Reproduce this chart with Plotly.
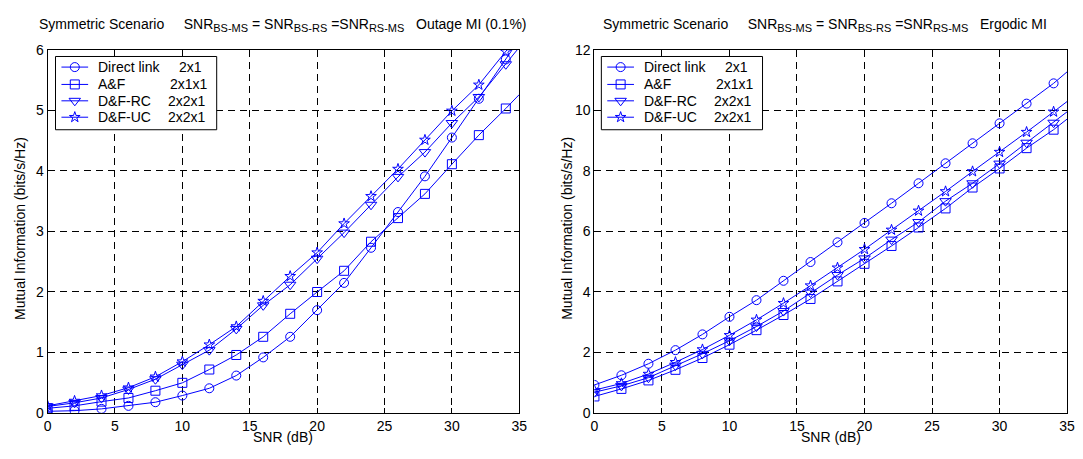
import plotly.graph_objects as go

# The page body keeps its default 8px margin: draw in a figure offset by it,
# small enough that the page never overflows the 1083x459 window.
OFF = 8
W, H = 1083 - OFF, 459 - 2 * OFF

snr = list(range(0, 35, 2))
snr_end = 35

# Outage MI (0.1%)
out_direct = [0.03, 0.04, 0.07, 0.12, 0.18, 0.29, 0.41, 0.62, 0.92, 1.26, 1.70, 2.15, 2.73, 3.32, 3.91, 4.55, 5.19, 5.84]
out_af     = [0.08, 0.12, 0.19, 0.25, 0.37, 0.50, 0.72, 0.96, 1.26, 1.64, 2.00, 2.35, 2.83, 3.22, 3.62, 4.11, 4.59, 5.03]
out_dfrc   = [0.11, 0.17, 0.25, 0.39, 0.56, 0.80, 1.04, 1.39, 1.78, 2.12, 2.55, 2.98, 3.44, 3.90, 4.31, 4.79, 5.22, 5.76]
out_dfuc   = [0.12, 0.20, 0.29, 0.42, 0.60, 0.85, 1.13, 1.43, 1.85, 2.26, 2.65, 3.13, 3.58, 4.03, 4.51, 4.99, 5.42, 5.97]
out_end    = [6.17, 5.26, 6.04, 6.25]

# Ergodic MI
erg_direct = [0.93, 1.25, 1.63, 2.08, 2.60, 3.18, 3.73, 4.37, 4.99, 5.64, 6.28, 6.93, 7.59, 8.25, 8.91, 9.57, 10.22, 10.89]
erg_af     = [0.55, 0.80, 1.08, 1.43, 1.82, 2.26, 2.74, 3.24, 3.77, 4.35, 4.93, 5.52, 6.13, 6.76, 7.45, 8.08, 8.75, 9.36]
erg_dfrc   = [0.69, 0.90, 1.17, 1.57, 1.96, 2.39, 2.86, 3.37, 3.98, 4.56, 5.11, 5.73, 6.31, 7.00, 7.59, 8.24, 8.93, 9.59]
erg_dfuc   = [0.76, 0.98, 1.29, 1.68, 2.10, 2.57, 3.08, 3.63, 4.21, 4.80, 5.41, 6.05, 6.68, 7.32, 7.98, 8.62, 9.28, 9.95]
erg_end    = [11.27, 9.71, 9.95, 10.29]

names = ["Direct link", "A&F", "D&F-RC", "D&F-UC"]
configs = ["2x1", "2x1x1", "2x2x1", "2x2x1"]
symbols = ["circle-open", "square-open", "triangle-down-open", "star-open"]
sizes = [9, 9, 10, 8]
blue = "rgb(0,0,255)"
FONT = "Liberation Sans, Arial, sans-serif"
FS = 14

# ---- layout geometry (window pixels) ----
PLOT_TOP, PLOT_BOT = 43, 420
PANELS = [
    dict(x0=44, x1=521, ymax=6, dtick=1, xa="x", ya="y", title="Outage MI (0.1%)", tcx=282, ylab=16),
    dict(x0=597, x1=1075, ymax=12, dtick=2, xa="x2", ya="y2", title="Ergodic MI", tcx=830, ylab=569),
]
LEG_ROWS = [61, 79, 96, 113]
LEG_BOX = (52, 50, 215, 126)
LEG_LINE = (58, 85)
LEG_MARK = 71.5
LEG_TXT = 93
LEG_CFG = [175, 166, 164, 164]
LEG_SHIFT = 552


def pxp(x):
    return (x - OFF) / W


def pyp(y):
    return 1 - (y - OFF) / H


fig = go.Figure()


def to_data(panel, x, y):
    xd = (x - panel["x0"]) / (panel["x1"] - panel["x0"]) * 35
    yd = (PLOT_BOT - y) / (PLOT_BOT - PLOT_TOP) * panel["ymax"]
    return xd, yd


def add_panel(panel, series, ends, shift):
    xa, ya = panel["xa"], panel["ya"]
    for i, vals in enumerate(series):
        fig.add_trace(go.Scatter(
            x=snr + [snr_end], y=vals + [ends[i]], mode="lines",
            line=dict(color=blue, width=1), showlegend=False, hoverinfo="skip",
            xaxis=xa, yaxis=ya))
        fig.add_trace(go.Scatter(
            x=snr, y=vals, mode="markers", name=names[i], showlegend=False,
            marker=dict(symbol=symbols[i], size=sizes[i], color=blue,
                        line=dict(color=blue, width=1)),
            xaxis=xa, yaxis=ya))
    # legend box (opaque, above the grid)
    l, t, r, b = LEG_BOX
    bx0, by0 = to_data(panel, l + shift, b)
    bx1, by1 = to_data(panel, r + shift, t)
    fig.add_trace(go.Scatter(x=[bx0, bx1, bx1, bx0, bx0], y=[by0, by0, by1, by1, by0],
                             mode="lines", fill="toself", fillcolor="white",
                             line=dict(color="black", width=1), showlegend=False,
                             hoverinfo="skip", xaxis=xa, yaxis=ya))
    for i in range(4):
        yrow = LEG_ROWS[i]
        xa0, yd = to_data(panel, LEG_LINE[0] + shift, yrow)
        xa1, _ = to_data(panel, LEG_LINE[1] + shift, yrow)
        xm, _ = to_data(panel, LEG_MARK + shift, yrow)
        fig.add_trace(go.Scatter(x=[xa0, xa1], y=[yd, yd], mode="lines",
                                 line=dict(color=blue, width=1), showlegend=False,
                                 hoverinfo="skip", xaxis=xa, yaxis=ya))
        fig.add_trace(go.Scatter(x=[xm], y=[yd], mode="markers", showlegend=False,
                                 hoverinfo="skip",
                                 marker=dict(symbol=symbols[i], size=sizes[i], color=blue,
                                             line=dict(color=blue, width=1)),
                                 xaxis=xa, yaxis=ya))
        fig.add_annotation(xref="paper", yref="paper", showarrow=False,
                           x=pxp(LEG_TXT + shift), y=pyp(yrow), xanchor="left", yanchor="middle",
                           text=names[i], font=dict(family=FONT, size=FS, color="black"))
        fig.add_annotation(xref="paper", yref="paper", showarrow=False,
                           x=pxp(LEG_CFG[i] + shift), y=pyp(yrow), xanchor="left", yanchor="middle",
                           text=configs[i], font=dict(family=FONT, size=FS, color="black"))


add_panel(PANELS[0], [out_direct, out_af, out_dfrc, out_dfuc], out_end, 0)
add_panel(PANELS[1], [erg_direct, erg_af, erg_dfrc, erg_dfuc], erg_end, LEG_SHIFT)

ydom = [pyp(PLOT_BOT), pyp(PLOT_TOP)]
axis_common = dict(showline=True, linecolor="black", linewidth=1, mirror="allticks",
                   ticks="inside", ticklen=5, tickcolor="black",
                   showgrid=True, gridcolor="black", gridwidth=1, griddash="7px,5px",
                   zeroline=False, tickfont=dict(family=FONT, size=FS, color="black"))

p0, p1 = PANELS
fig.update_layout(
    width=W, height=H, margin=dict(l=0, r=0, t=0, b=0),
    plot_bgcolor="white", paper_bgcolor="white",
    font=dict(family=FONT, size=FS, color="black"),
    xaxis=dict(domain=[pxp(p0["x0"]), pxp(p0["x1"])], range=[0, 35], dtick=5, anchor="y", **axis_common),
    yaxis=dict(domain=ydom, range=[0, p0["ymax"]], dtick=p0["dtick"], anchor="x", **axis_common),
    xaxis2=dict(domain=[pxp(p1["x0"]), pxp(p1["x1"])], range=[0, 35], dtick=5, anchor="y2", **axis_common),
    yaxis2=dict(domain=ydom, range=[0, p1["ymax"]], dtick=p1["dtick"], anchor="x2", **axis_common),
    showlegend=False,
)


def sb(t):
    return "<sub><span style='font-size:11px'>" + t + "</span></sub>"


sub = "SNR" + sb("BS-MS") + " = SNR" + sb("BS-RS") + " =SNR" + sb("RS-MS")
gap5 = "\u00a0" * 5
gap3 = "\u00a0" * 3
for p in PANELS:
    fig.add_annotation(xref="paper", yref="paper", showarrow=False,
                       text="Symmetric Scenario" + gap5 + sub + gap3 + p["title"],
                       x=pxp(p["tcx"]), y=pyp(17), xanchor="center", yanchor="middle",
                       font=dict(family=FONT, size=FS, color="black"))
    fig.add_annotation(xref="paper", yref="paper", showarrow=False, text="SNR (dB)",
                       x=pxp((p["x0"] + p["x1"]) / 2), y=pyp(445), xanchor="center", yanchor="middle",
                       font=dict(family=FONT, size=FS, color="black"))
    fig.add_annotation(xref="paper", yref="paper", showarrow=False,
                       text="Mutual Information (bits/s/Hz)", textangle=-90,
                       x=pxp(p["ylab"]), y=pyp(228), xanchor="center", yanchor="middle",
                       font=dict(family=FONT, size=FS, color="black"))

fig.write_html("out.html", config={"displayModeBar": False})
